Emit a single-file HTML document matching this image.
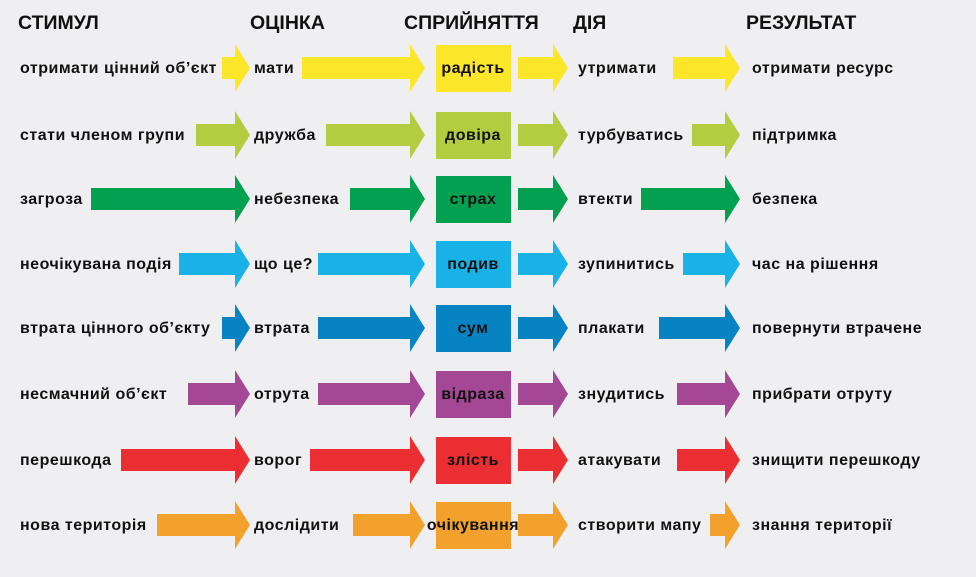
<!DOCTYPE html>
<html><head><meta charset="utf-8"><style>
html,body{margin:0;padding:0;background:#efeff1;}
svg{display:block}
text{font-family:"Liberation Sans","DejaVu Sans",sans-serif;font-weight:bold;fill:#111;}
</style></head><body>
<svg width="976" height="577" viewBox="0 0 976 577" xmlns="http://www.w3.org/2000/svg">
<rect width="976" height="577" fill="#efeff1"/>
<g font-size="19.5">
<text x="18" y="29">СТИМУЛ</text>
<text x="250" y="29">ОЦІНКА</text>
<text x="404" y="29">СПРИЙНЯТТЯ</text>
<text x="573" y="29">ДІЯ</text>
<text x="746" y="29">РЕЗУЛЬТАТ</text>
</g>
<g id="rows" font-size="16" letter-spacing="0.5"></g>
</svg>
<script>
var rows=[
[68,"#fbe62a","отримати цінний об’єкт","мати","радість","утримати","отримати ресурс",222,302,518,673],
[135,"#b4cc3f","стати членом групи","дружба","довіра","турбуватись","підтримка",196,326,518,692],
[199,"#03a14f","загроза","небезпека","страх","втекти","безпека",91,350,518,641],
[264,"#18b2e6","неочікувана подія","що це?","подив","зупинитись","час на рішення",179,318,518,683],
[328,"#0683c3","втрата цінного об’єкту","втрата","сум","плакати","повернути втрачене",222,318,518,659],
[394,"#a44895","несмачний об’єкт","отрута","відраза","знудитись","прибрати отруту",188,318,518,677],
[460,"#ea2e32","перешкода","ворог","злість","атакувати","знищити перешкоду",121,310,518,677],
[525,"#f2a22c","нова територія","дослідити","очікування","створити мапу","знання території",157,353,518,710]];
var tips=[250,425,568,740];
var g=document.getElementById('rows'),h='';
rows.forEach(function(r){
 var y=r[0],c=r[1];
 for(var i=0;i<4;i++){
  var s=r[7+i],t=tips[i];
  var hb=t-15;
  h+='<polygon fill="'+c+'" points="'+s+','+(y-11)+' '+hb+','+(y-11)+' '+hb+','+(y-24)+' '+t+','+y+' '+hb+','+(y+24)+' '+hb+','+(y+11)+' '+s+','+(y+11)+'"/>';
 }
 h+='<rect x="436" y="'+(y-23)+'" width="75" height="47" fill="'+c+'"/>';
 h+='<text x="20" y="'+(y+5)+'">'+r[2]+'</text>';
 h+='<text x="254" y="'+(y+5)+'">'+r[3]+'</text>';
 h+='<text x="473" y="'+(y+5)+'" text-anchor="middle">'+r[4]+'</text>';
 h+='<text x="578" y="'+(y+5)+'">'+r[5]+'</text>';
 h+='<text x="752" y="'+(y+5)+'">'+r[6]+'</text>';
});
g.innerHTML=h;
</script>
</body></html>
